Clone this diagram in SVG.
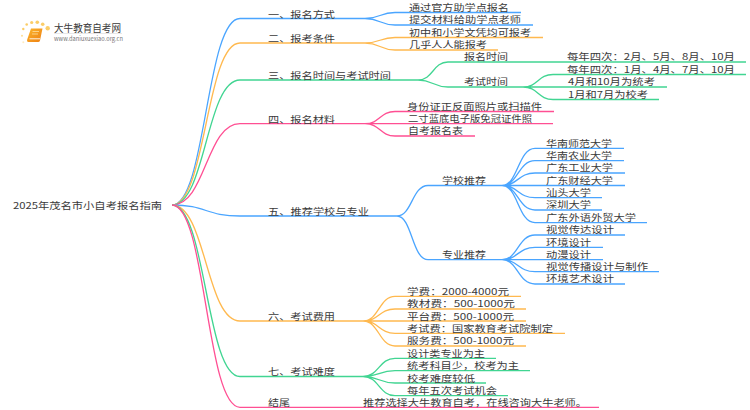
<svg xmlns="http://www.w3.org/2000/svg" width="750" height="410" viewBox="0 0 750 410">
<defs>
<linearGradient id="bk" x1="0" y1="0" x2="1" y2="1"><stop offset="0" stop-color="#fbb52c"/><stop offset="1" stop-color="#ee7f12"/></linearGradient>
</defs>
<style>
text{font-family:"Noto Sans CJK SC","Liberation Sans",sans-serif;font-size:9px;fill:#3a3a3a}
.c{fill:none;stroke-width:1.3}
.b{stroke:#4aa5ff}.o{stroke:#ffb94f}.g{stroke:#41d592}.p{stroke:#ff4f93}
.d{fill:#fbcd68}
</style>
<rect width="750" height="410" fill="#fff"/>
<g id="logo">
<circle class="d" cx="47.7" cy="28.3" r="2.2"/><circle class="d" cx="42.7" cy="24.3" r="1.8"/><circle class="d" cx="37.3" cy="22.3" r="1.8"/><circle class="d" cx="31.7" cy="22.5" r="1.6"/><circle class="d" cx="26.7" cy="24.5" r="1.3"/><circle class="d" cx="23.3" cy="29" r="1.2"/><circle class="d" cx="22" cy="35.7" r="1" opacity=".7"/><circle class="d" cx="23.3" cy="42.3" r="1" opacity=".4"/>
<path d="M31 28.5H42.5L40 40.5Q39.7 42 38 42H28.5Q26.6 42 27.2 39.5Z" fill="url(#bk)"/>
<path d="M29.5 38.8H40" stroke="#fff" stroke-width=".9" fill="none"/>
<path d="M32.5 31.5H39M32 34H38" stroke="#fde0a0" stroke-width=".8" fill="none"/>
<text x="54" y="31.5" textLength="67" lengthAdjust="spacingAndGlyphs" style="font-size:10px">大牛教育自考网</text>
<path d="M54 33.5H122" stroke="#d8d8d8" stroke-width=".6"/>
<text x="54" y="41" textLength="69" lengthAdjust="spacingAndGlyphs" style="font-size:6px;fill:#777">www.daniuxuexiao.org.cn</text>
</g>
<g id="connectors">
<path class="c b" d="M172 205C206 205 206 18.5 240 18.5H365"/>
<path class="c o" d="M172 205C206 205 206 43 240 43H365"/>
<path class="c g" d="M172 205C206 205 206 80 240 80H418"/>
<path class="c p" d="M172 205C206 205 206 123.7 240 123.7H365"/>
<path class="c b" d="M172 205C206 205 206 216 240 216H397"/>
<path class="c o" d="M172 205C206 205 206 321 240 321H363"/>
<path class="c g" d="M172 205C206 205 206 376.5 240 376.5H363"/>
<path class="c p" d="M172 205C206 205 206 407.3 240 407.3H599"/>
<path class="c b" d="M365 18.5C380 18.5 380 12.5 395 12.5H521M365 18.5C380 18.5 380 25 395 25H533"/>
<path class="c o" d="M365 43C380 43 380 37.5 395 37.5H543M365 43C380 43 380 50 395 50H498"/>
<path class="c g" d="M418 80C433 80 433 62 448 62H746M418 80C433 80 433 87 448 87H523"/>
<path class="c g" d="M523 87C538 87 538 74.5 553 74.5H746M523 87H667M523 87C538 87 538 99.5 553 99.5H659"/>
<path class="c p" d="M365 123.7C380 123.7 380 111.5 395 111.5H554M365 123.7H553M365 123.7C380 123.7 380 136 395 136H475"/>
<path class="c b" d="M397 216C412 216 412 185.5 428 185.5H502M397 216C412 216 412 259.7 428 259.7H502"/>
<path class="c b" d="M502 185.5C518 185.5 518 148.3 535 148.3H624M502 185.5C518 185.5 518 160.7 535 160.7H624M502 185.5C518 185.5 518 173 535 173H625M502 185.5H625M502 185.5C518 185.5 518 197.7 535 197.7H602M502 185.5C518 185.5 518 210 535 210H602M502 185.5C518 185.5 518 222.7 535 222.7H647"/>
<path class="c b" d="M502 259.7C518 259.7 518 235 535 235H625M502 259.7C518 259.7 518 247.3 535 247.3H603M502 259.7H603M502 259.7C518 259.7 518 271.7 535 271.7H659M502 259.7C518 259.7 518 284 535 284H625"/>
<path class="c o" d="M363 321C379 321 379 296.3 395 296.3H521M363 321C379 321 379 309 395 309H526M363 321H526M363 321C379 321 379 333.3 395 333.3H565M363 321C379 321 379 346 395 346H526"/>
<path class="c g" d="M363 376.5C379 376.5 379 358.3 395 358.3H496M363 376.5C379 376.5 379 370.7 395 370.7H530M363 376.5C379 376.5 379 383 395 383H486M363 376.5C379 376.5 379 395.7 395 395.7H508"/>
</g>
<g id="root"><text x="13" y="208.5" textLength="149" lengthAdjust="spacingAndGlyphs">2025年茂名市小自考报名指南</text></g>
<g id="n1"><text x="268" y="17.5" textLength="67" lengthAdjust="spacingAndGlyphs">一、报名方式</text>
<text x="409" y="10.5" textLength="100" lengthAdjust="spacingAndGlyphs">通过官方助学点报名</text>
<text x="409" y="23" textLength="112" lengthAdjust="spacingAndGlyphs">提交材料给助学点老师</text></g>
<g id="n2"><text x="268" y="41.5" textLength="67" lengthAdjust="spacingAndGlyphs">二、报考条件</text>
<text x="409" y="35.5" textLength="122" lengthAdjust="spacingAndGlyphs">初中和小学文凭均可报考</text>
<text x="409" y="48" textLength="78" lengthAdjust="spacingAndGlyphs">几乎人人能报考</text></g>
<g id="n3"><text x="268" y="78.5" textLength="123" lengthAdjust="spacingAndGlyphs">三、报名时间与考试时间</text>
<text x="464" y="60" textLength="44" lengthAdjust="spacingAndGlyphs">报名时间</text>
<text x="464" y="85" textLength="44" lengthAdjust="spacingAndGlyphs">考试时间</text>
<text x="567" y="60" textLength="168" lengthAdjust="spacingAndGlyphs">每年四次：2月、5月、8月、10月</text>
<text x="567" y="72.5" textLength="168" lengthAdjust="spacingAndGlyphs">每年四次：1月、4月、7月、10月</text>
<text x="568" y="85" textLength="87" lengthAdjust="spacingAndGlyphs">4月和10月为统考</text>
<text x="568" y="97.5" textLength="80" lengthAdjust="spacingAndGlyphs">1月和7月为校考</text></g>
<g id="n4"><text x="268" y="122.5" textLength="67" lengthAdjust="spacingAndGlyphs">四、报名材料</text>
<text x="407" y="109.5" textLength="135" lengthAdjust="spacingAndGlyphs">身份证正反面照片或扫描件</text>
<text x="408" y="122" textLength="124" lengthAdjust="spacingAndGlyphs">二寸蓝底电子版免冠证件照</text>
<text x="408" y="134" textLength="55" lengthAdjust="spacingAndGlyphs">自考报名表</text></g>
<g id="n5"><text x="268" y="214.5" textLength="101" lengthAdjust="spacingAndGlyphs">五、推荐学校与专业</text>
<text x="442" y="183.5" textLength="44" lengthAdjust="spacingAndGlyphs">学校推荐</text>
<text x="442" y="257.5" textLength="44" lengthAdjust="spacingAndGlyphs">专业推荐</text>
<text x="546" y="146.5" textLength="66" lengthAdjust="spacingAndGlyphs">华南师范大学</text>
<text x="546" y="159" textLength="66" lengthAdjust="spacingAndGlyphs">华南农业大学</text>
<text x="546" y="171" textLength="67" lengthAdjust="spacingAndGlyphs">广东工业大学</text>
<text x="546" y="183.5" textLength="67" lengthAdjust="spacingAndGlyphs">广东财经大学</text>
<text x="546" y="195.5" textLength="45" lengthAdjust="spacingAndGlyphs">汕头大学</text>
<text x="546" y="208" textLength="45" lengthAdjust="spacingAndGlyphs">深圳大学</text>
<text x="546" y="220.5" textLength="90" lengthAdjust="spacingAndGlyphs">广东外语外贸大学</text>
<text x="546" y="233" textLength="68" lengthAdjust="spacingAndGlyphs">视觉传达设计</text>
<text x="546" y="245.5" textLength="45" lengthAdjust="spacingAndGlyphs">环境设计</text>
<text x="546" y="257.5" textLength="45" lengthAdjust="spacingAndGlyphs">动漫设计</text>
<text x="546" y="270" textLength="102" lengthAdjust="spacingAndGlyphs">视觉传播设计与制作</text>
<text x="546" y="282" textLength="68" lengthAdjust="spacingAndGlyphs">环境艺术设计</text></g>
<g id="n6"><text x="268" y="319.5" textLength="67" lengthAdjust="spacingAndGlyphs">六、考试费用</text>
<text x="407" y="294.5" textLength="102" lengthAdjust="spacingAndGlyphs">学费：2000-4000元</text>
<text x="407" y="307" textLength="108" lengthAdjust="spacingAndGlyphs">教材费：500-1000元</text>
<text x="407" y="319.5" textLength="107" lengthAdjust="spacingAndGlyphs">平台费：500-1000元</text>
<text x="407" y="331.5" textLength="146" lengthAdjust="spacingAndGlyphs">考试费：国家教育考试院制定</text>
<text x="407" y="344" textLength="107" lengthAdjust="spacingAndGlyphs">服务费：500-1000元</text></g>
<g id="n7"><text x="268" y="375" textLength="67" lengthAdjust="spacingAndGlyphs">七、考试难度</text>
<text x="407" y="356.5" textLength="78" lengthAdjust="spacingAndGlyphs">设计类专业为主</text>
<text x="407" y="369" textLength="112" lengthAdjust="spacingAndGlyphs">统考科目少，校考为主</text>
<text x="407" y="381.5" textLength="68" lengthAdjust="spacingAndGlyphs">校考难度较低</text>
<text x="407" y="393.5" textLength="90" lengthAdjust="spacingAndGlyphs">每年五次考试机会</text></g>
<g id="n8"><text x="268" y="405.5" textLength="22" lengthAdjust="spacingAndGlyphs">结尾</text>
<text x="363" y="405.5" textLength="224" lengthAdjust="spacingAndGlyphs">推荐选择大牛教育自考，在线咨询大牛老师。</text></g>
</svg>
